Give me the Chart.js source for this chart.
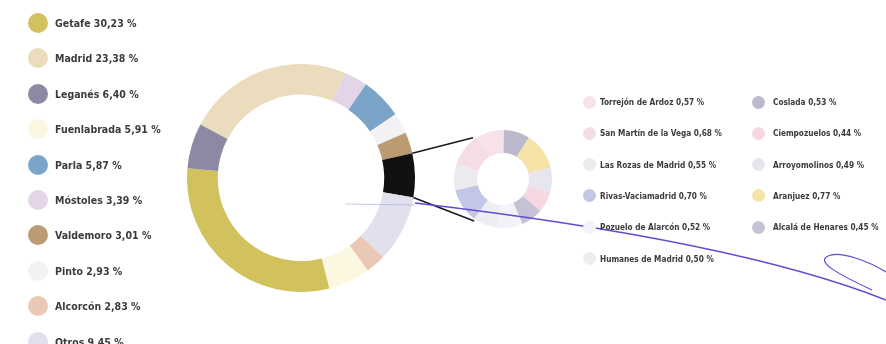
<!DOCTYPE html>
<html>
<head>
<meta charset="utf-8">
<script src="https://cdn.jsdelivr.net/npm/chart.js@4.4.0/dist/chart.umd.min.js"></script>
<style>
  html, body { margin: 0; padding: 0; background: #fff; }
  #page { position: relative; width: 886px; height: 344px; overflow: hidden; background: #fff; }
  #main { position: absolute; left: 187px; top: 64px; }
  #detail { position: absolute; left: 454px; top: 130px; }
  #overlay { position: absolute; left: 0; top: 0; pointer-events: none; }
  .leg { position: absolute; font-family: "DejaVu Sans Condensed", "DejaVu Sans", sans-serif; font-weight: bold; color: #3b3b3b; white-space: nowrap; }
  .leg .dot { position: absolute; border-radius: 50%; }
  .left { font-size: 10.5px; }
  .right { font-size: 8.2px; }
</style>
</head>
<body>
<div id="page">
  <canvas id="main" width="228" height="228"></canvas>
  <canvas id="detail" width="98" height="98"></canvas>
  <canvas id="overlay" width="886" height="344"></canvas>
</div>
<script>
// main municipalities (legend order)
var mainNames  = ['Getafe', 'Madrid', 'Leganés', 'Fuenlabrada', 'Parla', 'Móstoles', 'Valdemoro', 'Pinto', 'Alcorcón', 'Otros'];
var mainValues = [30.23, 23.38, 6.40, 5.91, 5.87, 3.39, 3.01, 2.93, 2.83, 9.45];
var mainColors = ['#d1c25e', '#ebdcbd', '#8c89a2', '#fcf7e0', '#7ba4c9', '#e4d4e7', '#bc9b73', '#f2f2f5', '#e9c9b6', '#e2e0ed'];

// small municipalities (legend: column 1 then column 2)
var smallNames  = ['Torrejón de Ardoz', 'San Martín de la Vega', 'Las Rozas de Madrid', 'Rivas-Vaciamadrid', 'Pozuelo de Alarcón', 'Humanes de Madrid',
                   'Coslada', 'Ciempozuelos', 'Arroyomolinos', 'Aranjuez', 'Alcalá de Henares'];
var smallValues = [0.57, 0.68, 0.55, 0.70, 0.52, 0.50, 0.53, 0.44, 0.49, 0.77, 0.45];
var smallColors = ['#f6e2e8', '#f5dde6', '#eaeaef', '#c3c6e6', '#f3f2f8', '#eeeef2', '#bdb9cd', '#f6d8e2', '#e6e5f0', '#f6e3a8', '#c6c1d4'];

// clockwise order of slices in each ring
var ringOrder   = ['Madrid', 'Móstoles', 'Parla', 'Pinto', 'Valdemoro', 'resto', 'Otros', 'Alcorcón', 'Fuenlabrada', 'Getafe', 'Leganés'];
var detailOrder = ['Torrejón de Ardoz', 'Coslada', 'Aranjuez', 'Arroyomolinos', 'Ciempozuelos', 'Alcalá de Henares',
                   'Pozuelo de Alarcón', 'Humanes de Madrid', 'Rivas-Vaciamadrid', 'Las Rozas de Madrid', 'San Martín de la Vega'];

var restoValue = smallValues.reduce(function(a, b) { return a + b; }, 0);
var restoColor = '#111111';

function fmt(v) { return v.toFixed(2).replace('.', ',') + ' %'; }

// legends
var page = document.getElementById('page');
function addItem(cls, x, y, r, color, text, textX) {
  var d = document.createElement('div');
  d.className = 'leg ' + cls;
  d.style.left = textX + 'px';
  d.style.top = (y - 7) + 'px';
  d.style.lineHeight = '14px';
  d.textContent = text;
  var dot = document.createElement('span');
  dot.className = 'dot';
  dot.style.width = dot.style.height = (2 * r) + 'px';
  dot.style.left = (x - r - textX) + 'px';
  dot.style.top = (7 - r) + 'px';
  dot.style.background = color;
  d.appendChild(dot);
  page.appendChild(d);
}
mainNames.forEach(function(n, i) {
  addItem('left', 38, 23 + i * 35.4, 10, mainColors[i], n + ' ' + fmt(mainValues[i]), 55);
});
smallNames.forEach(function(n, i) {
  var col = i < 6 ? 0 : 1, row = i < 6 ? i : i - 6;
  addItem('right', col ? 758 : 589, 102 + row * 31.3, 6.5, smallColors[i], n + ' ' + fmt(smallValues[i]), col ? 773 : 600);
});

function pick(order, names, values, colors) {
  var v = [], c = [];
  order.forEach(function(n) {
    if (n === 'resto') { v.push(restoValue); c.push(restoColor); return; }
    var i = names.indexOf(n);
    v.push(values[i]); c.push(colors[i]);
  });
  return { values: v, colors: c };
}

var ring = pick(ringOrder, mainNames, mainValues, mainColors);
var det = pick(detailOrder, smallNames, smallValues, smallColors);

var mainChart = new Chart(document.getElementById('main'), {
  type: 'doughnut',
  data: { labels: ringOrder, datasets: [{ data: ring.values, backgroundColor: ring.colors, borderWidth: 0 }] },
  options: {
    responsive: false, animation: false, cutout: '73%', rotation: -62,
    plugins: { legend: { display: false }, tooltip: { enabled: false } }
  }
});

var detailChart = new Chart(document.getElementById('detail'), {
  type: 'doughnut',
  data: { labels: detailOrder, datasets: [{ data: det.values, backgroundColor: det.colors, borderWidth: 0 }] },
  options: {
    responsive: false, animation: false, cutout: '53%', rotation: -32,
    plugins: { legend: { display: false }, tooltip: { enabled: false } }
  }
});

// connector lines from the black slice to the detail ring
var ov = document.getElementById('overlay').getContext('2d');
var mc = document.getElementById('main'), dc = document.getElementById('detail');
var arc = mainChart.getDatasetMeta(0).data[ringOrder.indexOf('resto')];
var dArc = detailChart.getDatasetMeta(0).data[0];
var cx = dc.offsetLeft + dArc.x, cy = dc.offsetTop + dArc.y, R = dArc.outerRadius + 2;
ov.strokeStyle = '#1a1a1a';
ov.lineWidth = 1.6;
[[arc.startAngle, Math.PI + 0.94], [arc.endAngle, Math.PI - 0.97]].forEach(function(p) {
  ov.beginPath();
  ov.moveTo(mc.offsetLeft + arc.x + Math.cos(p[0]) * arc.outerRadius, mc.offsetTop + arc.y + Math.sin(p[0]) * arc.outerRadius);
  ov.lineTo(cx + Math.cos(p[1]) * R, cy + Math.sin(p[1]) * R);
  ov.stroke();
});

// pen stroke across the scan
ov.strokeStyle = 'rgba(150,170,220,0.6)';
ov.lineWidth = 1;
ov.beginPath(); ov.moveTo(345, 204); ov.lineTo(415, 205); ov.stroke();
ov.strokeStyle = '#5a4fd2';
ov.lineWidth = 1.6;
ov.beginPath();
ov.moveTo(415, 203);
ov.bezierCurveTo(560, 220, 760, 250, 886, 300);
ov.stroke();
ov.lineWidth = 1.2;
ov.beginPath();
ov.moveTo(872, 290);
ov.bezierCurveTo(840, 275, 815, 262, 828, 256);
ov.bezierCurveTo(840, 250, 870, 262, 886, 272);
ov.stroke();
</script>
</body>
</html>
